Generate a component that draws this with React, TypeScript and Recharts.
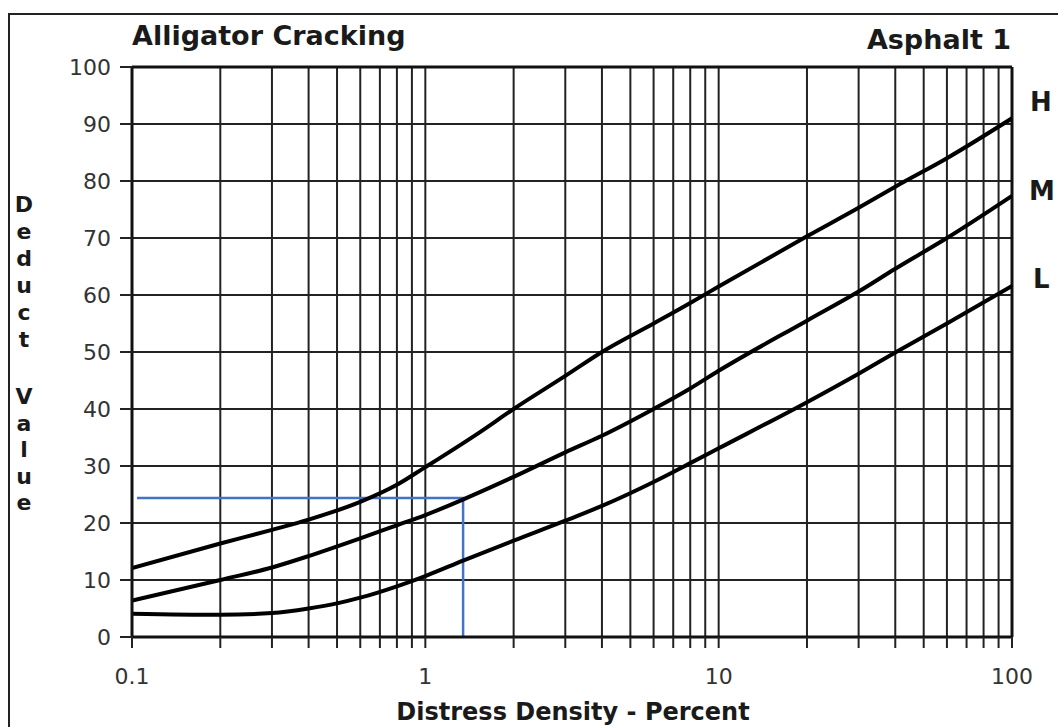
import React from 'react';
import {
  LineChart,
  Line,
  XAxis,
  YAxis,
  CartesianGrid,
  ReferenceLine,
} from 'recharts';

// density ticks (log grid) and the labelled decades
const gridTicks = [
  0.1, 0.2, 0.3, 0.4, 0.5, 0.6, 0.7, 0.8, 0.9,
  1, 2, 3, 4, 5, 6, 7, 8, 9,
  10, 20, 30, 40, 50, 60, 70, 80, 90, 100,
];
const decadeTicks = [0.1, 1, 10, 100];
const valueTicks = [0, 10, 20, 30, 40, 50, 60, 70, 80, 90, 100];

// H curve
const highDensity = [0.1, 0.2, 0.3, 0.4, 0.6, 0.8, 1, 1.5, 2, 3, 4, 6, 8, 10, 20, 30, 40, 60, 100];
const highValue = [12.1, 16.4, 18.8, 20.6, 23.7, 26.7, 29.8, 35.6, 40, 45.8, 50, 55, 58.6, 61.5, 70.3, 75.3, 79, 84, 91];

// M curve
const medDensity = [0.1, 0.2, 0.3, 0.4, 0.6, 0.8, 1, 2, 3, 4, 6, 8, 10, 20, 30, 40, 60, 100];
const medValue = [6.4, 10, 12.2, 14.2, 17.3, 19.6, 21.4, 28.1, 32.4, 35.3, 40, 43.6, 46.7, 55.5, 60.6, 64.6, 70, 77.4];

// L curve
const lowDensity = [0.1, 0.2, 0.3, 0.4, 0.5, 0.6, 0.8, 1, 1.345, 2, 3, 4, 6, 8, 10, 20, 30, 40, 60, 100];
const lowValue = [4.1, 3.9, 4.2, 5, 5.9, 6.9, 8.9, 10.7, 13.4, 16.9, 20.4, 23, 27.2, 30.5, 33.1, 41.2, 46.2, 49.9, 55, 61.6];

// blue reading guide
const guideDensity = [0.104, 1.345, 1.345];
const guideValue = [24.4, 24.4, 0];

const toPoints = (xs: number[], ys: number[]) => xs.map((x, i) => ({ x, y: ys[i] }));

const highData = toPoints(highDensity, highValue);
const medData = toPoints(medDensity, medValue);
const lowData = toPoints(lowDensity, lowValue);
const guideData = toPoints(guideDensity, guideValue);

const FONT = '"DejaVu Sans", Verdana, sans-serif';
const INK = '#1a1a1a';

const boldText = (fontSize: number): React.CSSProperties => ({
  position: 'absolute',
  fontFamily: FONT,
  fontWeight: 'bold',
  fontSize,
  lineHeight: `${fontSize}px`,
  color: INK,
  whiteSpace: 'nowrap',
});

export default function App() {
  return (
    <div style={{ position: 'absolute', left: 0, top: 0, width: 1058, height: 727, background: '#fff', overflow: 'hidden' }}>
      {/* outer frame (top + left only visible) */}
      <div style={{ position: 'absolute', left: 8, top: 13, width: 1060, height: 730, borderTop: '2px solid #222', borderLeft: '2px solid #222' }} />

      <LineChart
        width={1058}
        height={727}
        margin={{ top: 67, right: 46, bottom: 50, left: 0 }}
        style={{ position: 'absolute', left: 0, top: 0 }}
      >
        <CartesianGrid stroke="#222" strokeWidth={2} />
        <XAxis
          type="number"
          dataKey="x"
          scale="log"
          domain={[0.1, 100]}
          ticks={gridTicks}
          interval={0}
          allowDataOverflow
          height={40}
          tickSize={11}
          tickMargin={20}
          tickFormatter={(v: number) => (decadeTicks.includes(v) ? String(v) : '')}
          tick={{ fill: '#333', fontSize: 22, fontFamily: FONT }}
          tickLine={{ stroke: '#222', strokeWidth: 2 }}
          axisLine={{ stroke: '#111', strokeWidth: 3 }}
        />
        <YAxis
          type="number"
          dataKey="y"
          domain={[0, 100]}
          ticks={valueTicks}
          interval={0}
          width={132}
          tickSize={12}
          tickMargin={9}
          tick={{ fill: '#333', fontSize: 22, fontFamily: FONT }}
          tickLine={{ stroke: '#222', strokeWidth: 2 }}
          axisLine={{ stroke: '#111', strokeWidth: 3 }}
        />
        <ReferenceLine y={100} stroke="#111" strokeWidth={3} />
        <ReferenceLine x={100} stroke="#111" strokeWidth={3} />

        <Line data={guideData} dataKey="y" type="linear" stroke="#4472C4" strokeWidth={2.5} dot={false} isAnimationActive={false} />
        <Line data={highData} dataKey="y" type="monotone" stroke="#000" strokeWidth={4} dot={false} isAnimationActive={false} />
        <Line data={medData} dataKey="y" type="monotone" stroke="#000" strokeWidth={4} dot={false} isAnimationActive={false} />
        <Line data={lowData} dataKey="y" type="monotone" stroke="#000" strokeWidth={4} dot={false} isAnimationActive={false} />
      </LineChart>

      <div style={{ ...boldText(27), left: 132, top: 22 }}>Alligator Cracking</div>
      <div style={{ ...boldText(27), right: 1058 - 1011, top: 26, textAlign: 'right' }}>Asphalt 1</div>

      <div style={{ ...boldText(26), left: 1030, top: 89 }}>H</div>
      <div style={{ ...boldText(26), left: 1029, top: 178 }}>M</div>
      <div style={{ ...boldText(26), left: 1033, top: 266 }}>L</div>

      <div style={{ ...boldText(22), left: 12, top: 191, width: 24, lineHeight: '27px', textAlign: 'center' }}>
        {'Deduct'.split('').map((c, i) => <div key={i}>{c}</div>)}
      </div>
      <div style={{ ...boldText(22), left: 12, top: 384, width: 24, lineHeight: '26.5px', textAlign: 'center' }}>
        {'Value'.split('').map((c, i) => <div key={i}>{c}</div>)}
      </div>

      <div style={{ ...boldText(24), left: 573, top: 700, transform: 'translateX(-50%)' }}>Distress Density - Percent</div>
    </div>
  );
}
